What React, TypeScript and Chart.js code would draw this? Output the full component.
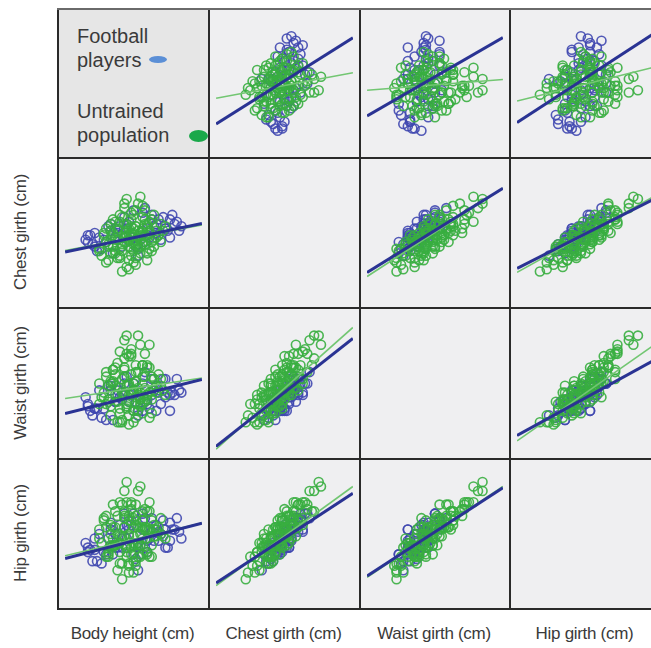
import React, { useEffect, useRef } from "react";
import { Chart, registerables } from "chart.js";
Chart.register(...registerables);

// ---------- DATA ----------
const variableLabels = ["Body height (cm)", "Chest girth (cm)", "Waist girth (cm)", "Hip girth (cm)"];
const axisMin = [150, 70, 60, 70];
const axisMax = [210, 130, 120, 130];

const footballHeight = [
  160, 198, 175, 186, 163, 193, 180, 170, 201, 184,
  166, 190, 177, 159, 195, 182, 172, 188, 164, 197,
  179, 168, 191, 185, 174, 161, 199, 183, 171, 189,
  178, 165, 194, 181, 176, 187, 162, 196, 173, 184,
  169, 192, 180, 167, 200, 186, 175, 190, 163, 182,
  194, 172, 188, 160, 185, 177, 196, 170, 182, 191,
];
const footballChest = [
  96, 104, 99, 102, 94, 107, 98, 101, 103, 109,
  93, 100, 104, 97, 101, 95, 102, 106, 92, 108,
  100, 96, 99, 111, 103, 99, 105, 97, 91, 103,
  105, 98, 102, 94, 107, 98, 95, 106, 100, 101,
  103, 97, 110, 97, 101, 99, 94, 104, 100, 90,
  102, 98, 108, 99, 96, 102, 98, 104, 93, 106,
];
const footballWaist = [
  81, 85, 85, 81, 79, 92, 78, 89, 86, 90,
  75, 78, 93, 84, 86, 78, 82, 92, 79, 86,
  85, 74, 87, 95, 84, 78, 92, 83, 74, 87,
  82, 87, 84, 82, 90, 79, 76, 85, 87, 78,
  89, 81, 90, 79, 87, 83, 83, 89, 79, 76,
  92, 82, 85, 80, 82, 89, 78, 87, 78, 86,
];
const footballHip = [
  92, 102, 98, 97, 93, 106, 91, 102, 98, 109,
  87, 102, 104, 96, 94, 96, 94, 107, 88, 102,
  104, 91, 97, 107, 104, 93, 107, 91, 91, 97,
  102, 100, 94, 89, 109, 98, 88, 105, 94, 102,
  98, 100, 109, 92, 101, 92, 94, 104, 98, 84,
  102, 100, 101, 94, 94, 98, 97, 105, 94, 101,
];

const untrainedHeight = [
  172, 185, 178, 169, 190, 181, 175, 183, 166, 188,
  177, 180, 173, 192, 179, 184, 170, 186, 176, 182,
  168, 187, 174, 181, 178, 194, 171, 183, 177, 180,
  165, 189, 176, 184, 172, 181, 175, 186, 179, 170,
  182, 177, 191, 174, 180, 185, 167, 183, 178, 173,
  188, 176, 181, 169, 184, 179, 175, 187, 171, 182,
  177, 193, 174, 180, 185, 168, 178, 183, 172, 186,
  176, 181, 170, 184, 179, 175, 189, 177, 182, 173,
  187, 178, 180, 171, 185, 176, 183, 169, 190, 179,
  174, 184, 167, 188, 178, 181, 172, 186, 177, 183,
  170, 192, 176, 180, 174, 185, 165, 182, 178, 187,
  173, 181, 176, 189, 171, 184, 179, 168, 186, 180,
];
const untrainedChest = [
  92, 104, 97, 88, 101, 110, 95, 99, 90, 106,
  85, 100, 102, 96, 93, 112, 98, 91, 104, 94,
  96, 100, 108, 89, 99, 103, 94, 97, 115, 87,
  93, 108, 100, 95, 97, 103, 83, 98, 106, 91,
  101, 96, 99, 105, 92, 110, 99, 94, 88, 101,
  96, 113, 97, 95, 102, 90, 107, 93, 100, 98,
  104, 101, 89, 96, 106, 102, 94, 116, 91, 103,
  98, 86, 104, 99, 109, 92, 97, 101, 93, 97,
  105, 84, 102, 99, 95, 111, 100, 94, 98, 103,
  90, 107, 100, 92, 102, 95, 105, 88, 99, 91,
  101, 104, 96, 108, 93, 99, 92, 113, 97, 101,
  89, 103, 98, 94, 106, 96, 100, 87, 104, 95,
];
const untrainedWaist = [
  85, 88, 89, 83, 86, 95, 86, 81, 84, 93,
  81, 87, 85, 89, 86, 98, 80, 85, 97, 78,
  93, 86, 104, 81, 90, 85, 90, 80, 111, 73,
  90, 92, 93, 77, 94, 91, 73, 83, 103, 76,
  95, 80, 94, 88, 78, 103, 84, 86, 72, 99,
  77, 101, 91, 82, 93, 86, 92, 75, 96, 88,
  103, 87, 79, 87, 87, 95, 82, 107, 89, 97,
  93, 75, 90, 98, 105, 74, 87, 89, 85, 82,
  107, 76, 86, 91, 82, 109, 83, 89, 89, 94,
  77, 98, 86, 83, 102, 84, 97, 85, 79, 84,
  91, 92, 96, 90, 73, 93, 81, 111, 85, 97,
  73, 98, 85, 92, 96, 81, 102, 81, 98, 78,
];
const untrainedHip = [
  95, 102, 99, 92, 99, 113, 99, 95, 96, 106,
  90, 103, 96, 100, 91, 110, 95, 98, 108, 90,
  103, 102, 114, 88, 106, 98, 98, 95, 123, 83,
  102, 104, 99, 98, 103, 108, 80, 91, 113, 94,
  103, 92, 103, 99, 96, 111, 107, 90, 86, 108,
  95, 110, 106, 90, 103, 94, 113, 90, 103, 96,
  114, 99, 96, 95, 103, 108, 87, 121, 95, 102,
  107, 86, 104, 106, 114, 87, 102, 95, 95, 100,
  114, 83, 99, 95, 102, 119, 103, 91, 102, 106,
  92, 106, 106, 90, 108, 95, 110, 92, 94, 100,
  100, 107, 103, 107, 87, 102, 98, 119, 100, 110,
  84, 104, 103, 99, 113, 91, 111, 90, 110, 88,
];

// Regression lines: y value at the left (axisMin of column variable) and right edge (axisMax)
const footballLineStart = [
  [null, 162, 165.6, 162.6],
  [91.6, null, 82.6, 84.4],
  [76.8, 62.4, null, 67.2],
  [89.2, 78.4, 81.4, null],
];
const footballLineEnd = [
  [null, 200.4, 200.4, 202.2],
  [104.2, null, 119.8, 115],
  [91.8, 109.8, null, 100.2],
  [104.8, 118, 120.4, null],
];
const untrainedLineStart = [
  [null, 173.4, 177, 172.2],
  [92.2, null, 80.8, 82.6],
  [83.4, 61.2, null, 64.8],
  [90.4, 77.2, 80.8, null],
];
const untrainedLineEnd = [
  [null, 184.8, 181.8, 187.2],
  [103.6, null, 119.8, 116.2],
  [92.4, 114.6, null, 106.8],
  [104.8, 121, 121, null],
];

const legendLabels = ["Football\nplayers", "Untrained\npopulation"];

// ---------- LAYOUT ----------
const colEdges = [57, 208, 359, 509, 660];
const rowEdges = [8, 157, 307, 458, 608];
const GRID = 2;
const FONT = '"Liberation Sans", Arial, Helvetica, sans-serif';

const footballVars = [footballHeight, footballChest, footballWaist, footballHip];
const untrainedVars = [untrainedHeight, untrainedChest, untrainedWaist, untrainedHip];

function pts(vars: number[][], xi: number, yi: number) {
  return vars[xi].map((v, i) => ({ x: v, y: vars[yi][i] }));
}

function Panel({ r, c, w, h }: { r: number; c: number; w: number; h: number }) {
  const ref = useRef<HTMLCanvasElement>(null);
  useEffect(() => {
    if (!ref.current) return;
    const chart = new Chart(ref.current, {
      type: "scatter",
      data: {
        datasets: [
          {
            data: [
              { x: axisMin[c], y: footballLineStart[r][c] as number },
              { x: axisMax[c], y: footballLineEnd[r][c] as number },
            ],
            showLine: true,
            borderColor: "#2a3393",
            borderWidth: 3,
            pointRadius: 0,
            order: 0,
          } as any,
          {
            data: [
              { x: axisMin[c], y: untrainedLineStart[r][c] as number },
              { x: axisMax[c], y: untrainedLineEnd[r][c] as number },
            ],
            showLine: true,
            borderColor: "#72c672",
            borderWidth: 1.6,
            pointRadius: 0,
            order: 1,
          } as any,
          {
            data: pts(untrainedVars, c, r),
            borderColor: "rgba(56,174,64,0.9)",
            backgroundColor: "rgba(255,255,255,0)",
            pointRadius: 4.5,
            borderWidth: 1.6,
            order: 2,
          },
          {
            data: pts(footballVars, c, r),
            borderColor: "rgba(64,72,176,0.9)",
            backgroundColor: "rgba(255,255,255,0)",
            pointRadius: 4.5,
            borderWidth: 1.6,
            order: 3,
          },
        ],
      },
      options: {
        responsive: false,
        animation: false,
        layout: { padding: 0 },
        plugins: { legend: { display: false }, tooltip: { enabled: false } },
        scales: {
          x: { type: "linear", min: axisMin[c], max: axisMax[c], display: false },
          y: { type: "linear", min: axisMin[r], max: axisMax[r], display: false },
        },
      },
    });
    return () => chart.destroy();
  }, [r, c]);
  return <canvas ref={ref} width={w} height={h} style={{ display: "block" }} />;
}

export default function App() {
  const cells: React.ReactNode[] = [];
  for (let r = 0; r < 4; r++) {
    for (let c = 0; c < 4; c++) {
      const left = colEdges[c] + GRID;
      const top = rowEdges[r] + GRID;
      const w = colEdges[c + 1] - colEdges[c] - GRID;
      const h = rowEdges[r + 1] - rowEdges[r] - GRID;
      const isLegend = r === 0 && c === 0;
      cells.push(
        <div
          key={`cell-${r}-${c}`}
          style={{
            position: "absolute",
            left,
            top,
            width: w,
            height: h,
            background: isLegend ? "#e6e6e6" : "#efeff1",
          }}
        >
          {!isLegend && r !== c ? <Panel r={r} c={c} w={w} h={h} /> : null}
        </div>
      );
    }
  }
  const lines: React.ReactNode[] = [];
  colEdges.forEach((x, i) =>
    lines.push(
      <div key={`v${i}`} style={{ position: "absolute", left: x, top: rowEdges[0], width: GRID, height: rowEdges[4] - rowEdges[0] + GRID, background: "#2a2a2a" }} />
    )
  );
  rowEdges.forEach((y, i) =>
    lines.push(
      <div key={`h${i}`} style={{ position: "absolute", left: colEdges[0], top: y, width: colEdges[4] - colEdges[0], height: GRID, background: i === 0 ? "#6a6a6a" : "#2a2a2a" }} />
    )
  );

  const textColor = "#3a3a3a";
  const bottomLabels = variableLabels.map((t, c) => (
    <div
      key={`bl${c}`}
      style={{
        position: "absolute",
        left: (colEdges[c] + colEdges[c + 1]) / 2 - 90,
        width: 180,
        top: 624,
        textAlign: "center",
        fontFamily: FONT,
        fontSize: 17,
        letterSpacing: -0.3,
        color: textColor,
        whiteSpace: "nowrap",
      }}
    >
      {t}
    </div>
  ));
  const leftLabels = variableLabels.slice(1).map((t, i) => {
    const r = i + 1;
    const cy = (rowEdges[r] + rowEdges[r + 1]) / 2;
    return (
      <div
        key={`ll${r}`}
        style={{
          position: "absolute",
          left: 21 - 90,
          top: cy - 10,
          width: 180,
          height: 20,
          lineHeight: "20px",
          textAlign: "center",
          transform: "rotate(-90deg)",
          fontFamily: FONT,
          fontSize: 17,
          letterSpacing: -0.3,
          color: textColor,
          whiteSpace: "nowrap",
        }}
      >
        {t}
      </div>
    );
  });

  const legendText = (txt: string, top: number) => (
    <div
      style={{
        position: "absolute",
        left: 77,
        top,
        fontFamily: FONT,
        fontSize: 20,
        lineHeight: "24px",
        color: "#3a3a3a",
        whiteSpace: "pre",
      }}
    >
      {txt}
    </div>
  );

  return (
    <div style={{ position: "absolute", left: 0, top: 0, width: 651, height: 648, overflow: "hidden", background: "#ffffff" }}>
      {cells}
      {lines}
      {legendText(legendLabels[0], 24)}
      {legendText(legendLabels[1], 99)}
      <div style={{ position: "absolute", left: 149, top: 56, width: 18, height: 7, borderRadius: "50%", background: "#5b8fd6" }} />
      <div style={{ position: "absolute", left: 189, top: 130, width: 19, height: 12, borderRadius: "50%", background: "#1aa84a" }} />
      {bottomLabels}
      {leftLabels}
    </div>
  );
}
